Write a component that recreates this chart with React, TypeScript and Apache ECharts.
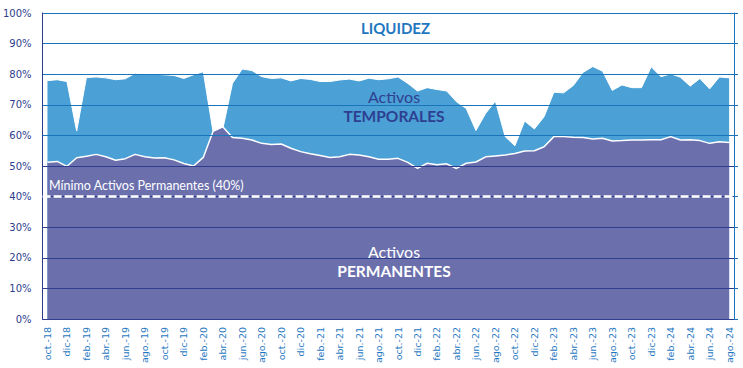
import React, { useEffect, useRef } from "react";
import * as echarts from "echarts";

const monthNames = ["ene.", "feb.", "mar.", "abr.", "may.", "jun.", "jul.", "ago.", "sept.", "oct.", "nov.", "dic"];
const startMonth = 9; // oct
const startYear = 18;
const nPoints = 71;
const categories: string[] = [];
for (let i = 0; i < nPoints; i++) {
  const m = (startMonth + i) % 12;
  const y = startYear + Math.floor((startMonth + i) / 12);
  categories.push(`${monthNames[m]}-${y}`);
}

// Total liquidity (top of blue area), %
const totalActivos = [
  77.9, 78.2, 77.6, 61.4, 78.9, 79.1, 78.8, 78.2, 78.5, 80.3,
  80.1, 80.0, 79.8, 79.6, 78.6, 79.8, 80.8, 61.3, 62.0, 77.0,
  81.7, 81.2, 79.2, 78.6, 78.8, 77.8, 78.6, 78.3, 77.6, 77.6,
  78.1, 78.4, 77.8, 78.7, 78.2, 78.5, 79.1, 77.0, 74.5, 75.6,
  75.0, 74.5, 71.0, 68.8, 61.6, 67.2, 71.2, 59.6, 56.6, 64.7,
  62.1, 66.1, 74.1, 73.9, 76.3, 80.6, 82.5, 81.0, 74.7, 76.5,
  75.6, 75.6, 82.4, 79.2, 80.1, 79.0, 76.1, 78.6, 75.2, 79.1,
  78.8,
];

// Permanent assets, %
const activosPermanentes = [
  51.2, 51.5, 49.9, 52.7, 53.2, 53.8, 53.0, 51.9, 52.4, 53.8,
  53.0, 52.6, 52.7, 52.0, 50.8, 50.0, 52.8, 61.3, 62.8, 59.3,
  59.1, 58.5, 57.4, 57.0, 57.2, 55.8, 54.7, 54.0, 53.4, 52.8,
  53.0, 53.8, 53.6, 53.0, 52.2, 52.2, 52.5, 51.2, 49.2, 50.9,
  50.4, 50.7, 49.2, 50.9, 51.3, 53.0, 53.3, 53.6, 54.1, 54.9,
  55.0, 56.3, 59.6, 59.6, 59.4, 59.3, 58.8, 59.1, 58.2, 58.3,
  58.5, 58.5, 58.6, 58.6, 59.6, 58.5, 58.6, 58.3, 57.4, 57.9,
  57.7,
];

const minimoPermanentes = 40;

const NAVY = "#2E3C8E";
const BLUE_LINE = "#1A74BB";
const TXT_FONT = "Lato, 'Open Sans', sans-serif";

export default function App() {
  const ref = useRef<HTMLDivElement>(null);
  useEffect(() => {
    if (!ref.current) return;
    const chart = echarts.init(ref.current, undefined, { renderer: "svg" });
    chart.setOption({
      animation: false,
      backgroundColor: "#ffffff",
      grid: { left: 41, right: 9, top: 13, bottom: 49, containLabel: false },
      xAxis: {
        type: "category",
        data: categories,
        boundaryGap: true,
        axisLine: { show: true, lineStyle: { color: NAVY, width: 1 } },
        axisTick: { show: false },
        axisLabel: {
          rotate: 90,
          interval: 1,
          color: "#1F78C1",
          fontSize: 9.5,
          fontFamily: "'DejaVu Sans', sans-serif",
          margin: 8,
        },
        splitLine: { show: false },
      },
      yAxis: [
        {
          type: "value",
          min: 0,
          max: 100,
          interval: 10,
          z: 3,
          axisLine: { show: true, lineStyle: { color: NAVY, width: 1 } },
          axisTick: { show: false },
          axisLabel: {
            formatter: "{value}%",
            color: NAVY,
            fontSize: 10,
            fontFamily: "'DejaVu Sans', sans-serif",
            margin: 11,
          },
          splitLine: {
            show: true,
            lineStyle: {
              width: 1,
              color: [NAVY, NAVY, NAVY, NAVY, NAVY, NAVY, BLUE_LINE, BLUE_LINE, BLUE_LINE, BLUE_LINE, BLUE_LINE],
            },
          },
        },
        {
          type: "value",
          position: "right",
          min: 0,
          max: 100,
          interval: 10,
          z: 3,
          axisLine: { show: true, lineStyle: { color: BLUE_LINE, width: 1 } },
          axisTick: { show: true, inside: false, length: 4, lineStyle: { color: BLUE_LINE } },
          axisLabel: { show: false },
          splitLine: { show: false },
        },
      ],
      series: [
        {
          name: "Total",
          type: "line",
          data: totalActivos,
          symbol: "none",
          lineStyle: { color: "#ffffff", width: 1 },
          areaStyle: { color: "#4BA0D5", opacity: 1 },
          z: 1,
        },
        {
          name: "Permanentes",
          type: "line",
          data: activosPermanentes,
          symbol: "none",
          lineStyle: { color: "#ffffff", width: 1.5 },
          areaStyle: { color: "#6B70AD", opacity: 1 },
          z: 2,
          markLine: {
            silent: true,
            symbol: "none",
            label: { show: false },
            lineStyle: { color: "#ffffff", type: [8, 3], width: 2.5 },
            data: [{ yAxis: minimoPermanentes }],
          },
        },
      ],
      graphic: [
        {
          type: "text",
          left: 361,
          top: 20,
          style: { text: "LIQUIDEZ", fill: "#1F77C0", font: `bold 15px ${TXT_FONT}` },
        },
        {
          type: "text",
          x: 394,
          y: 96,
          style: { text: "Activos", fill: "#2E3F91", font: `16px ${TXT_FONT}`, align: "center", verticalAlign: "middle" },
          z: 10,
        },
        {
          type: "text",
          x: 394,
          y: 116,
          style: { text: "TEMPORALES", fill: "#2E3F91", font: `bold 15.5px ${TXT_FONT}`, align: "center", verticalAlign: "middle" },
          z: 10,
        },
        {
          type: "text",
          x: 394,
          y: 251,
          style: { text: "Activos", fill: "#ffffff", font: `16px ${TXT_FONT}`, align: "center", verticalAlign: "middle" },
          z: 10,
        },
        {
          type: "text",
          x: 394,
          y: 271,
          style: { text: "PERMANENTES", fill: "#ffffff", font: `bold 15.5px ${TXT_FONT}`, align: "center", verticalAlign: "middle" },
          z: 10,
        },
        {
          type: "text",
          x: 49,
          y: 185,
          style: { text: "Mínimo Activos Permanentes (40%)", fill: "#ffffff", font: `12.5px ${TXT_FONT}`, verticalAlign: "middle" },
          z: 10,
        },
      ],
    });
    return () => chart.dispose();
  }, []);
  return (
    <div
      ref={ref}
      style={{ position: "fixed", left: 0, top: 0, width: 743, height: 368 }}
    />
  );
}
